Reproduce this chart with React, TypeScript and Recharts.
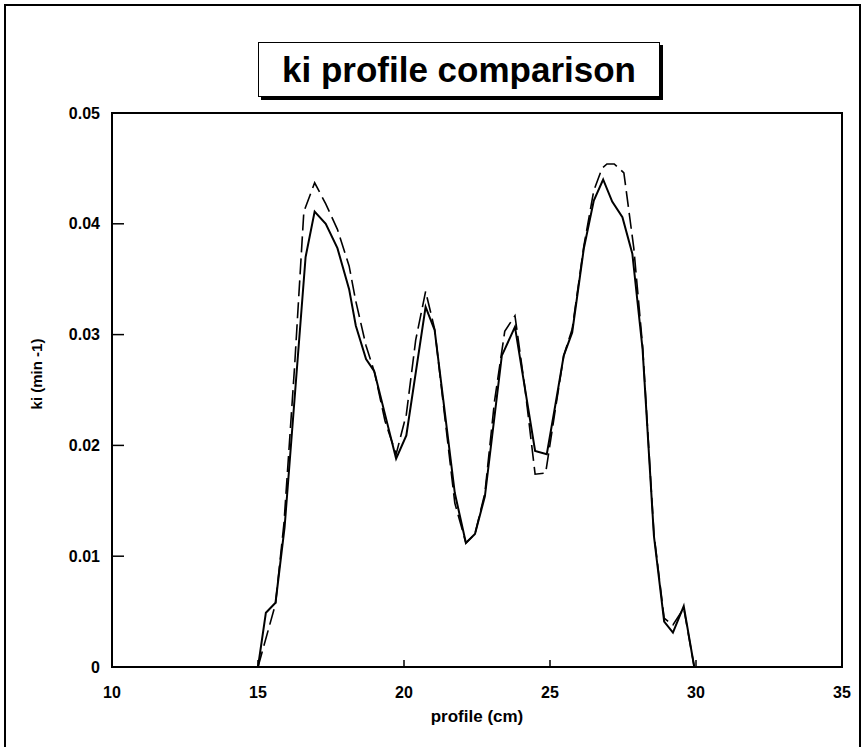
import { Label, Line, LineChart, ReferenceArea, XAxis, YAxis } from 'recharts';

// profile position (cm) and ki (min -1)
const solidX = [15.0, 15.27, 15.6, 15.91, 16.63, 16.94, 17.32, 17.72, 18.12, 18.35, 18.7, 18.98, 19.35, 19.73, 20.08, 20.74, 21.05, 21.74, 22.12, 22.43, 22.77, 23.35, 23.8, 24.49, 24.89, 25.18, 25.47, 25.76, 26.16, 26.5, 26.82, 27.13, 27.48, 27.82, 28.17, 28.56, 28.91, 29.21, 29.58, 29.94];
const solidY = [0, 0.0049, 0.0058, 0.0126, 0.037, 0.0411, 0.04, 0.0378, 0.0341, 0.0308, 0.0278, 0.0267, 0.0228, 0.0188, 0.0209, 0.0325, 0.0304, 0.0157, 0.0112, 0.012, 0.0154, 0.0281, 0.0307, 0.0195, 0.0192, 0.0236, 0.0281, 0.0302, 0.0378, 0.0421, 0.044, 0.042, 0.0406, 0.0373, 0.0287, 0.0118, 0.0041, 0.0031, 0.0055, 0];

const dashedX = [15.0, 15.6, 15.89, 16.25, 16.57, 16.94, 17.32, 17.72, 18.12, 18.35, 18.7, 19.0, 19.35, 19.73, 20.08, 20.4, 20.74, 21.05, 21.4, 21.74, 22.12, 22.43, 22.77, 23.1, 23.45, 23.8, 24.15, 24.49, 24.85, 25.18, 25.47, 25.76, 26.16, 26.5, 26.78, 26.95, 27.2, 27.53, 27.87, 28.17, 28.56, 28.91, 29.21, 29.58, 29.94];
const dashedY = [0, 0.0057, 0.013, 0.027, 0.0411, 0.0437, 0.0418, 0.0395, 0.0362, 0.033, 0.029, 0.0265, 0.0222, 0.0192, 0.0228, 0.0295, 0.0339, 0.0305, 0.0225, 0.0148, 0.0112, 0.012, 0.0157, 0.024, 0.0303, 0.0317, 0.025, 0.0174, 0.0175, 0.0232, 0.0281, 0.0305, 0.038, 0.043, 0.045, 0.0454, 0.0454, 0.0446, 0.0378, 0.029, 0.012, 0.0044, 0.0038, 0.0053, 0];

const xTicks = [10, 15, 20, 25, 30, 35];
const yTicks = [0, 0.01, 0.02, 0.03, 0.04, 0.05];

const solidData = solidX.map((x, i) => ({ x, ki: solidY[i] }));
const dashedData = dashedX.map((x, i) => ({ x, ki: dashedY[i] }));

const font = '"Liberation Sans", Arial, sans-serif';

// ticks point into the plot, labels sit outside
function XTick(props: any) {
  const { x, y, payload } = props;
  const edge = payload.value === xTicks[0] || payload.value === xTicks[xTicks.length - 1];
  return (
    <g>
      {!edge && <path d={`M${x},${y}V${y - 7}`} stroke="#000" strokeWidth={1.5} fill="none" />}
      <text x={x} y={y + 25} dy="0.35em" textAnchor="middle" fontSize={16} fontWeight={700} fontFamily={font} fill="#000">
        {payload.value}
      </text>
    </g>
  );
}

function YTick(props: any) {
  const { x, y, payload } = props;
  const edge = payload.value === yTicks[0] || payload.value === yTicks[yTicks.length - 1];
  return (
    <g>
      {!edge && <path d={`M${x},${y}H${x + 12}`} stroke="#000" strokeWidth={1.5} fill="none" />}
      <text x={x - 12} y={y} dy="0.35em" textAnchor="end" fontSize={16} fontWeight={700} fontFamily={font} fill="#000">
        {payload.value}
      </text>
    </g>
  );
}

export default function App() {
  return (
    <div style={{ position: 'absolute', left: 0, top: 0, width: 865, height: 747, overflow: 'hidden', background: '#fff' }}>
      <div
        style={{
          position: 'absolute',
          left: 4,
          top: 4,
          width: 853,
          height: 760,
          borderLeft: '2px solid #000',
          borderTop: '2px solid #000',
          borderRight: '2px solid #000',
        }}
      />
      <div
        style={{
          position: 'absolute',
          left: 258,
          top: 42,
          width: 400,
          height: 53,
          border: '1.5px solid #000',
          boxShadow: '3px 3px 0 #000',
          display: 'flex',
          alignItems: 'center',
          justifyContent: 'center',
          fontFamily: font,
          fontWeight: 700,
          fontSize: 35,
          background: '#fff',
        }}
      >
        ki profile comparison
      </div>
      <div style={{ position: 'absolute', left: 0, top: 0 }}>
        <LineChart width={865} height={747} data={solidData} margin={{ top: 113, right: 23, bottom: 50, left: 52 }}>
          <XAxis
            type="number"
            dataKey="x"
            domain={[10, 35]}
            ticks={xTicks}
            axisLine={false}
            tickLine={false}
            tickSize={0}
            tickMargin={0}
            tick={<XTick />}
            height={30}
          >
            <Label
              value="profile (cm)"
              position="bottom"
              offset={13}
              style={{ fontSize: 17, fontWeight: 700, fill: '#000', fontFamily: font }}
            />
          </XAxis>
          <YAxis
            type="number"
            domain={[0, 0.05]}
            ticks={yTicks}
            axisLine={false}
            tickLine={false}
            tickSize={0}
            tickMargin={0}
            tick={<YTick />}
            width={60}
          >
            <Label
              content={() => (
                <text
                  x={37}
                  y={374}
                  transform="rotate(-90 37 374)"
                  textAnchor="middle"
                  dy="0.35em"
                  fontSize={15}
                  fontWeight={700}
                  fontFamily={font}
                  fill="#000"
                >
                  ki (min -1)
                </text>
              )}
            />
          </YAxis>
          <ReferenceArea x1={10} x2={35} y1={0} y2={0.05} fill="none" stroke="#000" strokeWidth={2} />
          <Line
            data={dashedData}
            dataKey="ki"
            type="linear"
            stroke="#000"
            strokeWidth={1.6}
            strokeDasharray="16 6"
            dot={false}
            isAnimationActive={false}
          />
          <Line
            data={solidData}
            dataKey="ki"
            type="linear"
            stroke="#000"
            strokeWidth={2}
            dot={false}
            isAnimationActive={false}
          />
        </LineChart>
      </div>
    </div>
  );
}
